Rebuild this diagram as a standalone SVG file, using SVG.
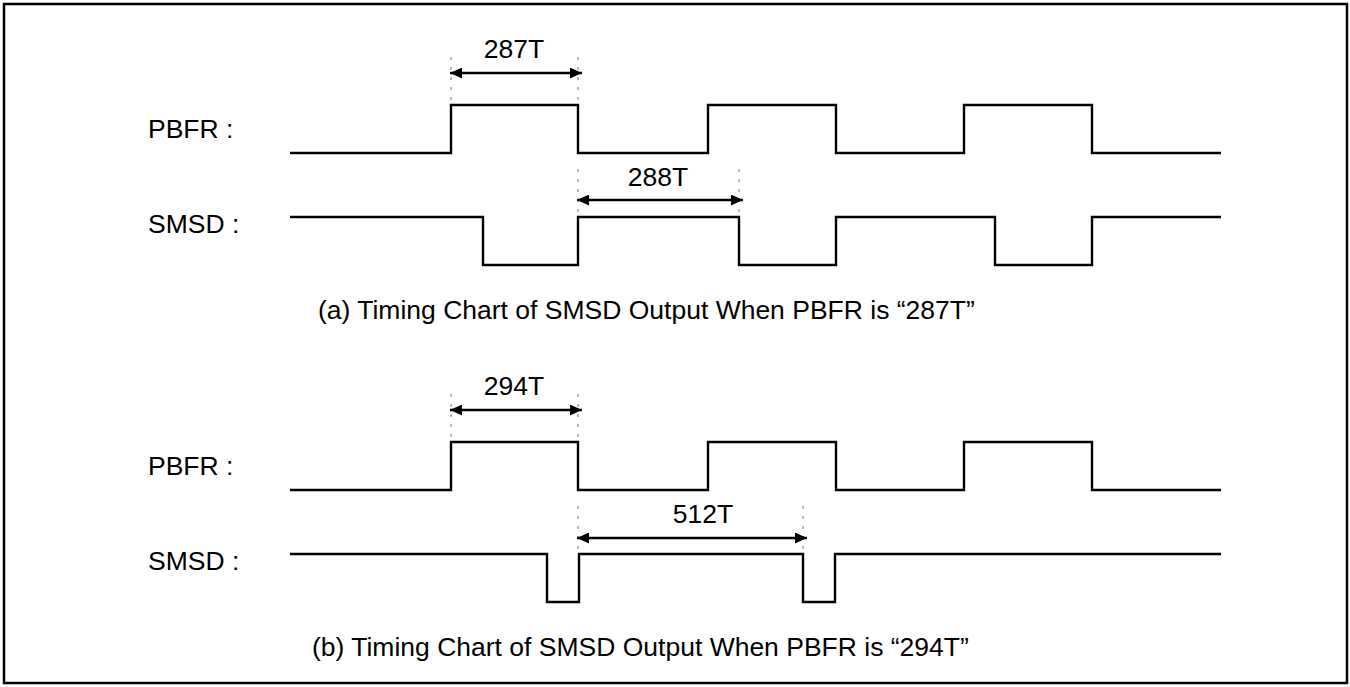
<svg xmlns="http://www.w3.org/2000/svg" width="1350" height="687" viewBox="0 0 1350 687">
  <defs>
    <marker id="ah" viewBox="0 0 12 11" refX="12" refY="5.5" markerWidth="12" markerHeight="11" markerUnits="userSpaceOnUse" orient="auto-start-reverse">
      <path d="M0,0 L12,5.5 L0,11 Z" fill="#000"/>
    </marker>
    <style>
      .t { font-family: "Liberation Sans", Arial, sans-serif; font-size: 26.5px; fill: #000; }
      .mid { text-anchor: middle; }
      .wave { fill: none; stroke: #000; stroke-width: 2.4; stroke-linejoin: miter; }
      .guide { stroke: #777; stroke-width: 1; stroke-dasharray: 3 7; fill: none; }
      .dim { stroke: #000; stroke-width: 2.4; fill: none; marker-start: url(#ah); marker-end: url(#ah); }
    </style>
  </defs>
  <rect x="0" y="0" width="1350" height="687" fill="#fff"/>
  <rect id="frame" x="4" y="4" width="1343" height="679" fill="none" stroke="#000" stroke-width="2.5"/>

  <g id="chart-a">
    <g id="pbfr-a">
      <text class="t" x="148" y="138">PBFR :</text>
      <path class="wave" d="M290,153 H451 V105 H578 V153 H708 V105 H836 V153 H964 V105 H1092 V153 H1221"/>
    </g>
    <g id="smsd-a">
      <text class="t" x="148" y="233">SMSD :</text>
      <path class="wave" d="M290,217 H483 V265 H578 V217 H739 V265 H836 V217 H995 V265 H1092 V217 H1221"/>
    </g>
    <g id="dim-287T">
      <text class="t mid" x="514" y="58">287T</text>
    </g>
    <g id="dim-288T">
      <text class="t mid" x="658" y="186">288T</text>
    </g>
    <text id="caption-a" class="t" x="318" y="319">(a) Timing Chart of SMSD Output When PBFR is “287T”</text>
  </g>

  <g id="chart-b">
    <g id="pbfr-b">
      <text class="t" x="148" y="475">PBFR :</text>
      <path class="wave" d="M290,490 H451 V442 H578 V490 H708 V442 H836 V490 H964 V442 H1092 V490 H1221"/>
    </g>
    <g id="smsd-b">
      <text class="t" x="148" y="570">SMSD :</text>
      <path class="wave" d="M290,554 H547 V602 H579 V554 H803 V602 H835 V554 H1221"/>
    </g>
    <g id="dim-294T">
      <text class="t mid" x="514" y="395">294T</text>
    </g>
    <g id="dim-512T">
      <text class="t mid" x="703" y="523">512T</text>
    </g>
    <text id="caption-b" class="t" x="312" y="656">(b) Timing Chart of SMSD Output When PBFR is “294T”</text>
  </g>

  <g id="connectors">
    <line class="guide" x1="451" y1="57" x2="451" y2="105"/>
    <line class="guide" x1="578" y1="57" x2="578" y2="105"/>
    <line class="dim" x1="450" y1="73" x2="582" y2="73"/>

    <line class="guide" x1="578" y1="169" x2="578" y2="217"/>
    <line class="guide" x1="739" y1="169" x2="739" y2="217"/>
    <line class="dim" x1="577" y1="200" x2="743" y2="200"/>

    <line class="guide" x1="451" y1="394" x2="451" y2="442"/>
    <line class="guide" x1="578" y1="394" x2="578" y2="442"/>
    <line class="dim" x1="450" y1="410" x2="582" y2="410"/>

    <line class="guide" x1="578" y1="506" x2="578" y2="554"/>
    <line class="guide" x1="803" y1="506" x2="803" y2="554"/>
    <line class="dim" x1="577" y1="538" x2="807" y2="538"/>
  </g>
</svg>
